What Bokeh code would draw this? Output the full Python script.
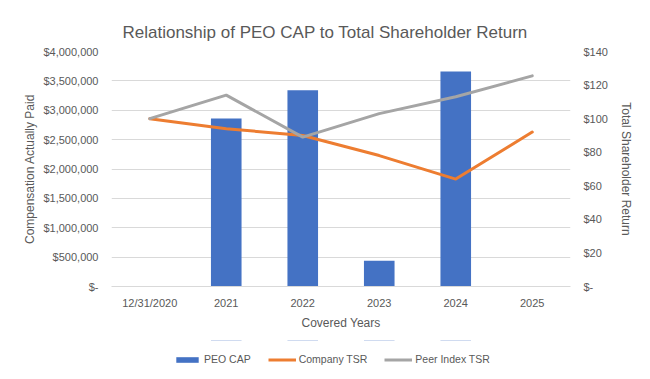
from bokeh.plotting import figure
from bokeh.layouts import column
from bokeh.models import (FactorRange, Range1d, LinearAxis, FixedTicker, Legend,
                          LegendItem, ColumnDataSource)
from bokeh.embed import file_html
from bokeh.resources import INLINE

# ---- data ----
years = ["12/31/2020", "2021", "2022", "2023", "2024", "2025"]
peo_cap = [None, 2860000, 3340000, 440000, 3660000, None]
company_tsr = [100, 94, 90, 78, 64, 92]
peer_tsr = [100, 114, 89, 103, 113, 125.5]
cap_ticks = [0, 500000, 1000000, 1500000, 2000000, 2500000, 3000000, 3500000, 4000000]
tsr_ticks = [0, 20, 40, 60, 80, 100, 120, 140]

TXT = "#595959"
FONT = "Liberation Sans"
GRID = "#D9D9D9"
C_BAR, C_CO, C_PE = "#4472C4", "#ED7D31", "#A5A5A5"

p = figure(x_range=FactorRange(*years, range_padding=0),
           y_range=Range1d(cap_ticks[0], cap_ticks[-1]),
           width=650, height=340, output_backend="svg", toolbar_location=None,
           min_border_left=111, min_border_right=80, min_border_top=51,
           min_border_bottom=54,
           title="Relationship of PEO CAP to Total Shareholder Return")
p.extra_y_ranges = {"tsr": Range1d(tsr_ticks[0], tsr_ticks[-1])}
p.outline_line_color = None
p.background_fill_color = "white"
p.border_fill_color = "white"

p.title.align = "left"
p.title.offset = 11
p.title.standoff = 20
p.title.text_font = FONT
p.title.text_font_size = "17px"
p.title.text_font_style = "normal"
p.title.text_color = TXT

bar_x = [y for y, v in zip(years, peo_cap) if v is not None]
bar_top = [v for v in peo_cap if v is not None]
src_bar = ColumnDataSource(dict(x=bar_x, top=bar_top))
p.vbar(x="x", top="top", width=0.4, source=src_bar, fill_color=C_BAR, line_color=None)
p.line(years, company_tsr, y_range_name="tsr", line_color=C_CO,
       line_width=3, line_join="round", line_cap="round")
p.line(years, peer_tsr, y_range_name="tsr", line_color=C_PE,
       line_width=3, line_join="round", line_cap="round")

# left axis
left_ticker = FixedTicker(ticks=cap_ticks)
ya = p.yaxis[0]
ya.ticker = left_ticker
ya.major_label_overrides = {t: ("$-" if t == 0 else "${:,.0f}".format(t)) for t in cap_ticks}
ya.axis_label = "Compensation Actually Paid"
ya.axis_label_standoff = 3
p.ygrid.ticker = left_ticker
p.ygrid.grid_line_color = GRID
p.xgrid.visible = False

# right axis
ra = LinearAxis(y_range_name="tsr", ticker=FixedTicker(ticks=tsr_ticks),
                axis_label="Total Shareholder Return")
ra.major_label_overrides = {t: ("$-" if t == 0 else "${:,.0f}".format(t)) for t in tsr_ticks}
ra.axis_label_standoff = 8
p.add_layout(ra, "right")

xa = p.xaxis[0]
xa.axis_label = "Covered Years"
xa.axis_line_color = GRID
xa.major_label_standoff = 10
xa.axis_label_standoff = 4

for ax in (ya, ra):
    ax.axis_line_color = None
    ax.major_label_standoff = 13

for ax in (ya, ra, xa):
    ax.major_tick_line_color = None
    ax.minor_tick_line_color = None
    ax.major_tick_out = 0
    ax.major_tick_in = 0
    ax.minor_tick_out = 0
    ax.minor_tick_in = 0
    ax.major_label_text_font = FONT
    ax.major_label_text_font_size = "11px"
    ax.major_label_text_color = TXT
    ax.axis_label_text_font = FONT
    ax.axis_label_text_font_size = "12px"
    ax.axis_label_text_font_style = "normal"
    ax.axis_label_text_color = TXT

# legend strip below the chart (series drawn out of view, only swatches show)
q = figure(width=650, height=39, output_backend="svg", toolbar_location=None,
           x_range=FactorRange(*years, range_padding=0), y_range=Range1d(-2, -1),
           x_axis_location=None, y_axis_location=None, min_border=0)
q.outline_line_color = None
q.xgrid.visible = False
q.ygrid.visible = False
q.background_fill_color = "white"
q.border_fill_color = "white"
s_bar = q.vbar(x="x", top="top", width=0.4, source=ColumnDataSource(dict(x=bar_x, top=bar_top)),
               fill_color=C_BAR, line_color=None)
s_co = q.line(years, company_tsr, line_color=C_CO, line_width=3)
s_pe = q.line(years, peer_tsr, line_color=C_PE, line_width=3)
legend = Legend(items=[LegendItem(label="PEO CAP", renderers=[s_bar]),
                       LegendItem(label="Company TSR", renderers=[s_co]),
                       LegendItem(label="Peer Index TSR", renderers=[s_pe])],
                location=(62, 14), orientation="horizontal",
                glyph_width=28, glyph_height=7, label_standoff=3, spacing=17,
                padding=0, margin=0, border_line_alpha=0, background_fill_alpha=0,
                label_text_font=FONT, label_text_font_size="10.5px",
                label_text_color=TXT)
q.add_layout(legend)

layout = column(p, q, spacing=0)
open("out.html", "w").write(file_html(layout, INLINE))
